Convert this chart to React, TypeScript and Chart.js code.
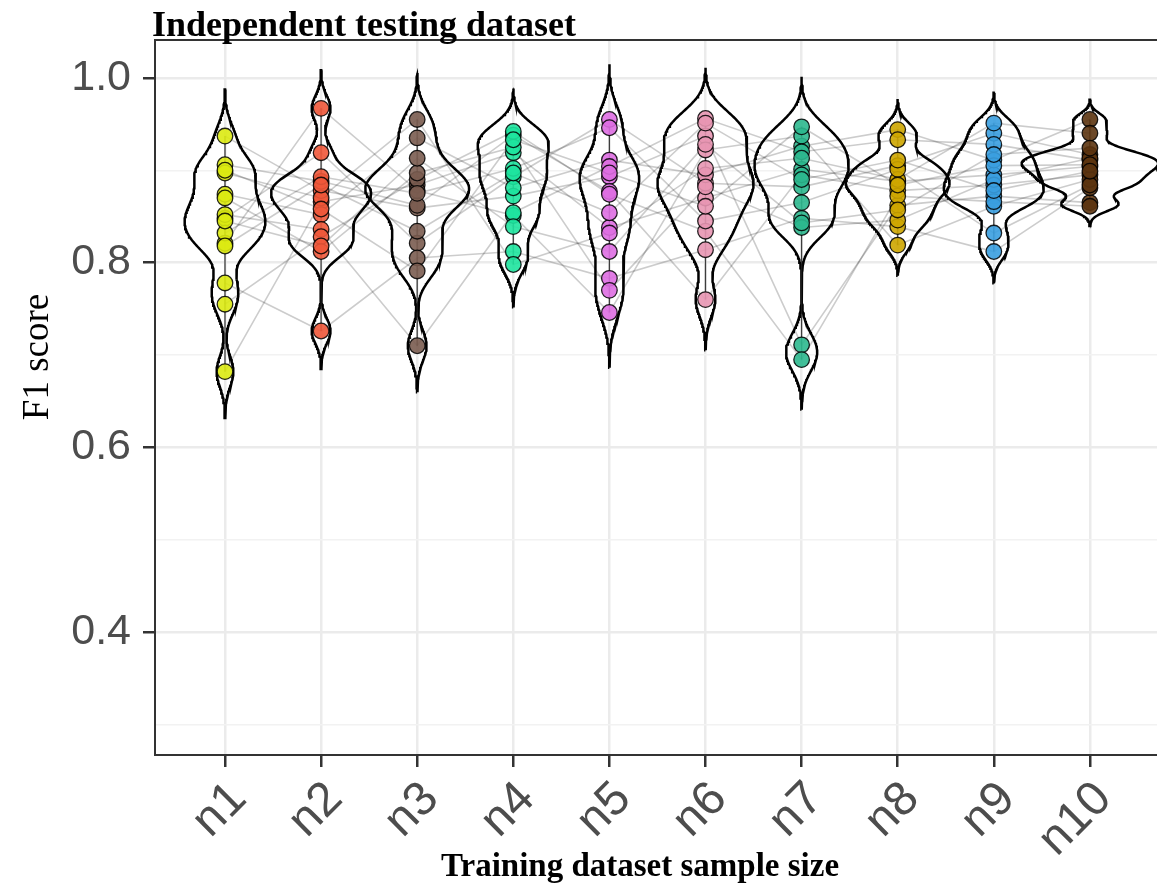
import React, { useEffect, useRef } from "react";
import { Chart, registerables } from "chart.js";

Chart.register(...registerables);

// ---------------- DATA ----------------
const categories = ["n1", "n2", "n3", "n4", "n5", "n6", "n7", "n8", "n9", "n10"];

// F1 score of each repeated run (same run order in every array)
const n1 = [0.682, 0.937, 0.848, 0.778, 0.874, 0.906, 0.821, 0.852, 0.755, 0.897, 0.832, 0.870, 0.900, 0.818, 0.845];
const n2 = [0.866, 0.878, 0.919, 0.726, 0.852, 0.888, 0.967, 0.836, 0.828, 0.870, 0.893, 0.812, 0.858, 0.884, 0.818];
const n3 = [0.884, 0.859, 0.821, 0.805, 0.935, 0.862, 0.878, 0.710, 0.890, 0.955, 0.875, 0.897, 0.791, 0.834, 0.913];
const n4 = [0.919, 0.872, 0.893, 0.812, 0.881, 0.938, 0.851, 0.854, 0.942, 0.798, 0.902, 0.925, 0.933, 0.897, 0.839];
const n5 = [0.838, 0.893, 0.955, 0.783, 0.911, 0.877, 0.746, 0.904, 0.874, 0.832, 0.946, 0.770, 0.897, 0.854, 0.812];
const n6 = [0.870, 0.937, 0.886, 0.814, 0.895, 0.760, 0.922, 0.956, 0.834, 0.902, 0.845, 0.882, 0.861, 0.951, 0.928];
const n7 = [0.901, 0.711, 0.882, 0.848, 0.926, 0.895, 0.937, 0.920, 0.695, 0.913, 0.865, 0.838, 0.947, 0.890, 0.843];
const n8 = [0.888, 0.862, 0.905, 0.839, 0.944, 0.878, 0.819, 0.933, 0.872, 0.890, 0.901, 0.846, 0.884, 0.911, 0.857];
const n9 = [0.895, 0.872, 0.940, 0.812, 0.911, 0.884, 0.861, 0.928, 0.866, 0.951, 0.832, 0.890, 0.905, 0.878, 0.917];
const n10 = [0.904, 0.865, 0.917, 0.881, 0.955, 0.895, 0.890, 0.911, 0.861, 0.940, 0.884, 0.913, 0.906, 0.899, 0.924];

const groups = [n1, n2, n3, n4, n5, n6, n7, n8, n9, n10];

const pointColors = [
  "rgba(220,234,18,0.9)",
  "rgba(240,88,58,0.9)",
  "rgba(122,92,80,0.9)",
  "rgba(30,228,158,0.9)",
  "rgba(222,110,226,0.9)",
  "rgba(232,150,178,0.9)",
  "rgba(44,184,142,0.9)",
  "rgba(206,166,0,0.9)",
  "rgba(58,158,224,0.9)",
  "rgba(92,52,16,0.9)",
];

const yTickValues = [0.3, 0.4, 0.5, 0.6, 0.7, 0.8, 0.9, 1.0];
const yMajorTicks = [0.4, 0.6, 0.8, 1.0];

const titleText = "Independent testing dataset";
const xTitleText = "Training dataset sample size";
const yTitleText = "F1 score";

// ---------------- VIOLIN SETTINGS ----------------
const BW_ADJUST = 0.65;
// widest half-width of each violin, in category units
const violinHalfWidths = [0.42, 0.52, 0.54, 0.37, 0.31, 0.5, 0.49, 0.54, 0.52, 0.71];

function quantile7(sorted: number[], p: number) {
  const h = (sorted.length - 1) * p;
  const lo = Math.floor(h);
  const hi = Math.min(lo + 1, sorted.length - 1);
  return sorted[lo] + (h - lo) * (sorted[hi] - sorted[lo]);
}

function bwNrd0(xs: number[]) {
  const n = xs.length;
  const mean = xs.reduce((a, b) => a + b, 0) / n;
  const sd = Math.sqrt(xs.reduce((a, b) => a + (b - mean) * (b - mean), 0) / (n - 1));
  const s = [...xs].sort((a, b) => a - b);
  const iqr = quantile7(s, 0.75) - quantile7(s, 0.25);
  const lo = Math.min(sd, iqr / 1.34);
  return 0.9 * lo * Math.pow(n, -0.2);
}

function kde(xs: number[], bw: number, y: number) {
  let s = 0;
  for (const x of xs) {
    const z = (y - x) / bw;
    s += Math.exp(-0.5 * z * z);
  }
  return s / (xs.length * bw * Math.sqrt(2 * Math.PI));
}

function buildViolins() {
  return groups.map((g, i) => {
    const bw = bwNrd0(g) * BW_ADJUST;
    const lo = Math.min(...g) - 3 * bw;
    const hi = Math.max(...g) + 3 * bw;
    const ys: number[] = [];
    const ds: number[] = [];
    const N = 240;
    for (let k = 0; k <= N; k++) {
      const y = lo + ((hi - lo) * k) / N;
      ys.push(y);
      ds.push(kde(g, bw, y));
    }
    const dmax = Math.max(...ds);
    const c = i + 1;
    const half = violinHalfWidths[i];
    const pts: { x: number; y: number }[] = [];
    for (let k = 0; k < ys.length; k++) pts.push({ x: c - (ds[k] / dmax) * half, y: ys[k] });
    for (let k = ys.length - 1; k >= 0; k--) pts.push({ x: c + (ds[k] / dmax) * half, y: ys[k] });
    pts.push({ ...pts[0] });
    return pts;
  });
}

const isMajor = (v: number) => yMajorTicks.some((m) => Math.abs(m - v) < 1e-6);

export default function App() {
  const ref = useRef<HTMLCanvasElement>(null);

  useEffect(() => {
    document.body.style.margin = "0";
    document.body.style.overflow = "hidden";
    document.documentElement.style.overflow = "hidden";
    const canvas = ref.current;
    if (!canvas) return;

    const violins = buildViolins();
    const nRuns = groups[0].length;

    const datasets: any[] = [];
    for (let r = 0; r < nRuns; r++) {
      datasets.push({
        data: groups.map((g, i) => ({ x: i + 1, y: g[r] })),
        showLine: true,
        borderColor: "rgba(0,0,0,0.2)",
        borderWidth: 1.6,
        pointRadius: 0,
        tension: 0,
        order: 5,
      });
    }
    violins.forEach((pts) => {
      datasets.push({
        data: pts,
        showLine: true,
        borderColor: "#000000",
        borderWidth: 2.5,
        pointRadius: 0,
        tension: 0,
        fill: false,
        order: 4,
      });
    });
    groups.forEach((g, i) => {
      datasets.push({
        data: [
          { x: i + 1, y: Math.min(...g) },
          { x: i + 1, y: Math.max(...g) },
        ],
        showLine: true,
        borderColor: "rgba(30,30,30,0.85)",
        borderWidth: 1.3,
        pointRadius: 0,
        order: 3,
      });
    });
    groups.forEach((g, i) => {
      datasets.push({
        data: g.map((v) => ({ x: i + 1, y: v })),
        showLine: false,
        pointRadius: 7.8,
        pointBackgroundColor: pointColors[i],
        pointBorderColor: "rgba(0,0,0,0.85)",
        pointBorderWidth: 1.3,
        order: 1,
      });
    });

    const textPlugin = {
      id: "textsAndFrame",
      afterDraw(chart: any) {
        const { ctx, chartArea: a } = chart;
        ctx.save();
        ctx.strokeStyle = "#333333";
        ctx.lineWidth = 2;
        ctx.beginPath();
        ctx.moveTo(a.left, a.top);
        ctx.lineTo(chart.width, a.top);
        ctx.stroke();
        ctx.fillStyle = "#000000";
        ctx.font = 'bold 36px "Liberation Serif", "Times New Roman", serif';
        ctx.textAlign = "left";
        ctx.textBaseline = "alphabetic";
        ctx.fillText(titleText, a.left - 3, 36);
        ctx.font = 'bold 33px "Liberation Serif", "Times New Roman", serif';
        ctx.textAlign = "center";
        ctx.fillText(xTitleText, 640, 876);
        ctx.translate(48, 357);
        ctx.rotate(-Math.PI / 2);
        ctx.font = '37px "Liberation Serif", "Times New Roman", serif';
        ctx.textAlign = "center";
        ctx.textBaseline = "alphabetic";
        ctx.fillText(yTitleText, 0, 0);
        ctx.restore();
      },
    };

    const chart = new Chart(canvas, {
      type: "scatter",
      data: { datasets },
      plugins: [textPlugin],
      options: {
        animation: false,
        responsive: false,
        events: [],
        layout: { autoPadding: false, padding: { top: 40, left: 0, right: 0, bottom: 0 } },
        plugins: {
          legend: { display: false },
          tooltip: { enabled: false },
          title: { display: false },
        },
        scales: {
          x: {
            type: "linear",
            min: 0.2717,
            max: 10.698,
            afterBuildTicks: (scale: any) => {
              scale.ticks = categories.map((_, i) => ({ value: i + 1 }));
            },
            afterFit: (scale: any) => {
              scale.height = 129;
              scale.paddingRight = 0;
              scale.paddingLeft = 0;
            },
            ticks: {
              autoSkip: false,
              minRotation: 45,
              maxRotation: 45,
              padding: 4,
              labelOffset: 14,
              color: "#4d4d4d",
              font: { family: '"Liberation Sans", Arial, sans-serif', size: 48 },
              callback: (_v: any, index: number) => categories[index],
            },
            grid: {
              color: "#ebebeb",
              lineWidth: 2.5,
              tickLength: 12,
              tickColor: "#333333",
              tickWidth: 2.5,
            },
            border: { display: true, color: "#333333", width: 2 },
          },
          y: {
            type: "linear",
            min: 0.267,
            max: 1.041,
            afterBuildTicks: (scale: any) => {
              scale.ticks = yTickValues.map((v) => ({ value: v }));
            },
            afterFit: (scale: any) => {
              scale.width = 155;
            },
            ticks: {
              padding: 12,
              color: "#4d4d4d",
              font: { family: '"Liberation Sans", Arial, sans-serif', size: 43 },
              callback: (v: any) => (isMajor(Number(v)) ? Number(v).toFixed(1) : ""),
            },
            grid: {
              color: (c: any) => (c.tick && isMajor(c.tick.value) ? "#ebebeb" : "#f2f2f2"),
              lineWidth: (c: any) => (c.tick && isMajor(c.tick.value) ? 2.5 : 1.5),
              tickLength: 12,
              tickColor: (c: any) => (c.tick && isMajor(c.tick.value) ? "#333333" : "rgba(0,0,0,0)"),
              tickWidth: 2.5,
            },
            border: { display: true, color: "#333333", width: 2 },
          },
        },
      },
    } as any);

    return () => chart.destroy();
  }, []);

  return (
    <div style={{ width: 1157, height: 884, position: "relative" }}>
      <canvas ref={ref} width={1157} height={884} style={{ display: "block" }} />
    </div>
  );
}
